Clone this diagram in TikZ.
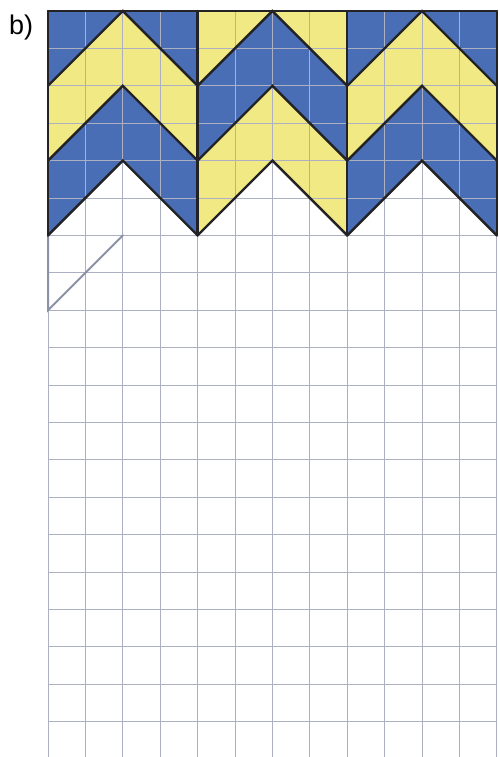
\documentclass[tikz,border=0pt]{standalone}
\usepackage{fontspec}
\setmainfont{Liberation Sans}
\definecolor{chblue}{RGB}{74,110,182}
\definecolor{chyellow}{RGB}{241,233,132}
\definecolor{gridc}{RGB}{172,176,192}
\definecolor{pencil}{RGB}{140,146,165}
\definecolor{edge}{RGB}{35,35,38}
\tikzset{
  gridline/.style={draw=gridc, line width=0.9pt},
  thickline/.style={draw=edge, line width=2.4pt, line join=miter, line cap=round},
  pencilline/.style={draw=pencil, line width=2pt, line cap=round},
  lbl/.style={font=\fontsize{27pt}{30pt}\selectfont, inner sep=0pt, anchor=base west}
}
\begin{document}
\begin{tikzpicture}[x=1pt,y=1pt]
\useasboundingbox (0,0) rectangle (499,-757);
\fill[white] (0,0) rectangle (499,-757);
\node[lbl] (label) at (9,-35) {b)};
\begin{scope}[shift={(48,-11)}, x=37.4pt, y=-37.4pt]
  % fills
  \foreach \xo/\ca/\cb in {0/chblue/chyellow, 4/chyellow/chblue, 8/chblue/chyellow}{
    \fill[\ca] (\xo,0) -- (\xo+4,0) -- (\xo+4,2) -- (\xo+2,0) -- (\xo,2) -- cycle;
    \fill[\cb] (\xo,2) -- (\xo+2,0) -- (\xo+4,2) -- (\xo+4,4) -- (\xo+2,2) -- (\xo,4) -- cycle;
    \fill[\ca] (\xo,4) -- (\xo+2,2) -- (\xo+4,4) -- (\xo+4,6) -- (\xo+2,4) -- (\xo,6) -- cycle;
  }
  % grid
  \foreach \i in {0,...,12} \draw[gridline] (\i,0) -- (\i,20);
  \foreach \j in {0,...,19} \draw[gridline] (0,\j) -- (12,\j);
  % pencil start of next chevron
  \coordinate (p0) at (0,6);
  \coordinate (p1) at (0,8);
  \coordinate (p2) at (2,6);
  \draw[pencilline] (p0) -- (p1) -- (p2);
  % thick outlines
  \draw[thickline] (0,0) -- (12,0);
  \foreach \i in {0,4,8,12} \draw[thickline] (\i,0) -- (\i,6);
  \foreach \xo in {0,4,8}{
    \foreach \k in {2,4,6}{
      \draw[thickline] (\xo,\k) -- (\xo+2,\k-2) -- (\xo+4,\k);
    }
  }
\end{scope}
\end{tikzpicture}
\end{document}
